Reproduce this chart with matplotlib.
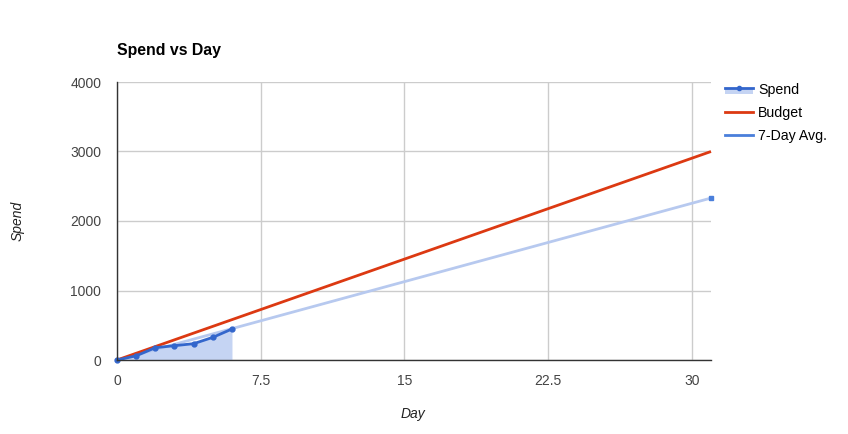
import matplotlib
matplotlib.use("Agg")
import matplotlib.pyplot as plt
from matplotlib.lines import Line2D
from matplotlib.patches import Rectangle
from matplotlib.legend_handler import HandlerBase

plt.rcParams['font.family'] = ['Liberation Sans', 'DejaVu Sans']

spend_days = [0, 1, 2, 3, 4, 5, 6]
spend_vals = [0, 60, 177, 206, 235, 326, 446]
budget_days = [0, 31]
budget_vals = [0, 3000]
avg_days = [0, 31]
avg_vals = [0, 2330]
x_ticks = [0, 7.5, 15, 22.5, 30]
x_tick_labels = ["0", "7.5", "15", "22.5", "30"]
y_ticks = [0, 1000, 2000, 3000, 4000]

SPEND = "#3366cc"
BUDGET = "#dc3912"
AVG = "#4a7fdb"
AVG_LINE = "#b7c9ef"
FILL = "#c5d4f3"

fig = plt.figure(figsize=(8.48, 4.34), dpi=100)
W, H = 848, 434
ax = fig.add_axes([117 / W, 1 - 360 / H, (711 - 117) / W, (360 - 82) / H])

ax.fill_between(spend_days, spend_vals, 0, color=FILL, linewidth=0, zorder=2)
ax.plot(avg_days, avg_vals, color=AVG_LINE, linewidth=2, zorder=3, solid_capstyle='butt')
ax.plot(avg_days[-1:], avg_vals[-1:], marker='s', markersize=3, color=AVG, linestyle='none', zorder=4, clip_on=False)
ax.plot(budget_days, budget_vals, color=BUDGET, linewidth=2, zorder=5, solid_capstyle='butt', clip_on=False)
ax.plot(spend_days, spend_vals, color=SPEND, linewidth=2, marker='o', markersize=3.5, zorder=6, clip_on=False)

ax.set_xlim(0, 31)
ax.set_ylim(0, 4000)
ax.set_xticks(x_ticks)
ax.set_xticklabels(x_tick_labels)
ax.set_yticks(y_ticks)
ax.grid(True, color="#cccccc", linewidth=1)
ax.set_axisbelow(True)
for s in ['top', 'right']:
    ax.spines[s].set_visible(False)
for s in ['left', 'bottom']:
    ax.spines[s].set_color("#333333")
    ax.spines[s].set_linewidth(1)
    ax.spines[s].set_zorder(7)
ax.tick_params(axis='x', length=0, labelsize=10, colors="#444444", pad=10)
ax.tick_params(axis='y', length=0, labelsize=10, colors="#444444", pad=11.3)

fig.text(117 / W, 1 - 50 / H, "Spend vs Day", fontsize=11.4, fontweight='bold', color='black', va='center', ha='left')
fig.text(413 / W, 1 - 414 / H, "Day", fontsize=10, style='italic', color='#222222', ha='center', va='center')
fig.text(18 / W, 1 - 221 / H, "Spend", fontsize=10, style='italic', color='#222222', ha='center', va='center', rotation=90)


class SpendHandler(HandlerBase):
    def create_artists(self, legend, orig_handle, xdescent, ydescent, width, height, fontsize, trans):
        cy = -ydescent + height * 0.6
        r = Rectangle((-xdescent, cy - height * 0.6), width, height * 0.6,
                      facecolor=FILL, edgecolor='none', transform=trans)
        l = Line2D([-xdescent, -xdescent + width], [cy] * 2, color=SPEND, linewidth=2, transform=trans)
        m = Line2D([-xdescent + width / 2], [cy], color=SPEND, marker='o', markersize=3, linestyle='none', transform=trans)
        return [r, l, m]


class SpendKey:
    pass


handles = [SpendKey(), Line2D([], [], color=BUDGET, linewidth=2), Line2D([], [], color=AVG, linewidth=2)]
labels = ["Spend", "Budget", "7-Day Avg."]
fig.legend(handles, labels, handler_map={SpendKey: SpendHandler()}, loc='upper left',
           bbox_to_anchor=(725 / W, 1 - 83 / H), frameon=False, fontsize=10.2,
           handlelength=1.98, handletextpad=0.35, labelspacing=0.62, borderaxespad=0, borderpad=0)

fig.savefig("out.png", dpi=100)
